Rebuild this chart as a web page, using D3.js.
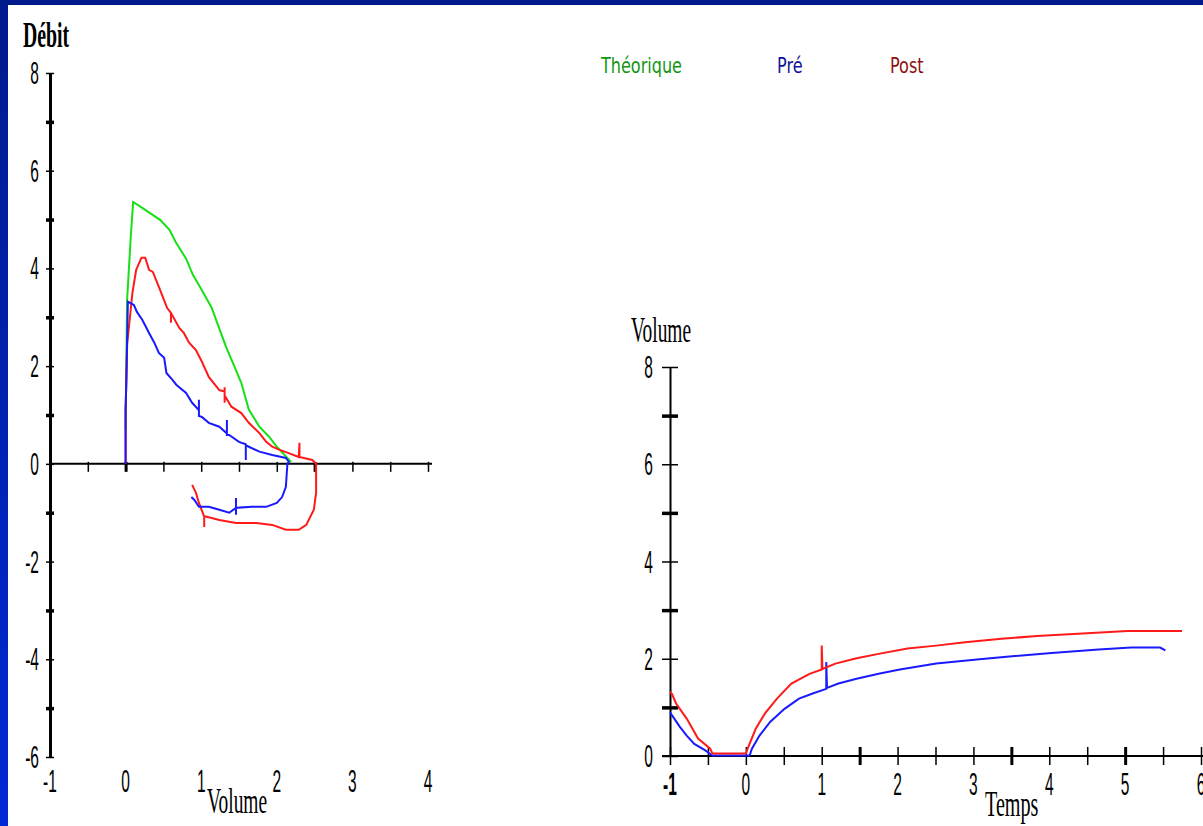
<!DOCTYPE html>
<html>
<head>
<meta charset="utf-8">
<script src="https://cdn.jsdelivr.net/npm/d3@7"></script>
<style>
  html, body { margin: 0; padding: 0; background: #fff; }
  svg { display: block; }
</style>
</head>
<body>
<div id="chart"></div>
<script>
// legend
let seriesNames = ['Théorique', 'Pré', 'Post'];
let seriesColors = ['#16e016', '#1a1aff', '#ff1a1a'];
let legendColors = ['#129612', '#10109a', '#8c1010'];

// flow / volume loop : [volume, débit]
let theoFlow = [[0, 0.7], [0.02, 3.36], [0.07, 4.69], [0.1, 5.36], [0.24, 5.22], [0.46, 4.99],
  [0.58, 4.79], [0.67, 4.52], [0.8, 4.2], [0.89, 3.87], [1, 3.58], [1.14, 3.19], [1.21, 2.89],
  [1.33, 2.39], [1.44, 1.99], [1.53, 1.66], [1.63, 1.11], [1.77, 0.76], [1.9, 0.55], [2, 0.35],
  [2.19, 0.04]];

let preFlow = [[0, 0], [0, 1.1], [0.01, 1.72], [0.03, 3.32], [0.11, 3.25], [0.15, 3.11],
  [0.22, 2.95], [0.27, 2.8], [0.31, 2.68], [0.38, 2.48], [0.44, 2.27], [0.51, 2.17], [0.54, 1.86],
  [0.62, 1.72], [0.67, 1.62], [0.8, 1.45], [0.88, 1.25], [0.97, 1.1], [0.97, 1.31], [0.97, 0.98],
  [1.01, 0.96], [1.1, 0.84], [1.24, 0.76], [1.34, 0.62], [1.34, 0.9], [1.34, 0.59], [1.37, 0.59],
  [1.5, 0.45], [1.59, 0.4], [1.59, 0.08], [1.59, 0.38], [1.63, 0.35], [1.77, 0.25], [1.94, 0.18],
  [2.12, 0.12], [2.16, 0.04], [2.14, 0], [2.12, -0.47], [2.07, -0.68], [2, -0.8], [1.86, -0.88],
  [1.67, -0.88], [1.46, -0.9], [1.46, -0.7], [1.46, -1.04], [1.46, -0.9], [1.37, -1.0],
  [1.24, -0.94], [1.1, -0.88], [0.97, -0.88], [0.91, -0.74], [0.87, -0.68]];

let postFlow = [[0, 0], [0, 1.1], [0.01, 1.72], [0.02, 2.44], [0.09, 3.5], [0.14, 3.97],
  [0.21, 4.22], [0.26, 4.22], [0.31, 3.97], [0.36, 3.93], [0.44, 3.62], [0.55, 3.19], [0.6, 3.09],
  [0.6, 2.89], [0.6, 3.09], [0.71, 2.78], [0.77, 2.68], [0.84, 2.48], [0.93, 2.33], [1.01, 2.09],
  [1.1, 1.78], [1.24, 1.51], [1.31, 1.48], [1.31, 1.25], [1.31, 1.57], [1.31, 1.4], [1.4, 1.17],
  [1.53, 1.04], [1.63, 0.84], [1.77, 0.63], [1.86, 0.45], [1.94, 0.35], [2.03, 0.29], [2.14, 0.23],
  [2.29, 0.14], [2.3, 0.43], [2.3, 0.14], [2.47, 0.08], [2.52, 0], [2.52, -0.59], [2.49, -0.94],
  [2.39, -1.25], [2.29, -1.35], [2.12, -1.35], [1.94, -1.25], [1.73, -1.21], [1.46, -1.21],
  [1.24, -1.15], [1.06, -1.08], [1.04, -1.08], [1.04, -1.29], [1.04, -1.08], [0.97, -0.8],
  [0.93, -0.59], [0.88, -0.43]];

// volume / time : [temps, volume]
let preTime = [[-1, 0.9], [-0.975, 0.84], [-0.87, 0.6], [-0.78, 0.42], [-0.68, 0.25], [-0.54, 0.12],
  [-0.44, 0.01], [0.05, 0.01], [0.08, 0.15], [0.18, 0.42], [0.32, 0.7], [0.51, 0.97], [0.7, 1.18],
  [0.89, 1.29], [1.06, 1.38], [1.06, 1.93], [1.07, 1.4], [1.22, 1.49], [1.46, 1.59], [1.75, 1.69],
  [2.03, 1.78], [2.51, 1.9], [3.08, 1.99], [3.51, 2.05], [4.03, 2.12], [4.65, 2.19], [5.08, 2.23],
  [5.46, 2.23], [5.53, 2.17]];

let postTime = [[-1, 1.32], [-0.975, 1.28], [-0.92, 1.08], [-0.78, 0.77], [-0.63, 0.36],
  [-0.47, 0.15], [-0.44, 0.05], [0, 0.05], [0.03, 0.18], [0.13, 0.56], [0.25, 0.87], [0.41, 1.18],
  [0.6, 1.49], [0.84, 1.69], [1, 1.78], [1, 2.27], [1.01, 1.79], [1.18, 1.9], [1.46, 2.01],
  [1.75, 2.1], [2.13, 2.21], [2.51, 2.27], [2.89, 2.34], [3.37, 2.41], [3.84, 2.47], [4.32, 2.51],
  [5.03, 2.57], [5.75, 2.57]];

// tick labels
let flowYLabels = [8, 6, 4, 2, 0, -2, -4, -6];
let flowXLabels = [-1, 0, 1, 2, 3, 4];
let timeYLabels = [8, 6, 4, 2, 0];
let timeXLabels = [-1, 0, 1, 2, 3, 4, 5, 6];

let width = 1203;
let height = 826;

let svg = d3.select('#chart')
  .append('svg')
  .attr('width', width)
  .attr('height', height);

// blue slide frame
let grad = svg.append('defs').append('linearGradient')
  .attr('id', 'frame')
  .attr('x1', 0).attr('y1', 0).attr('x2', 0).attr('y2', 1);
grad.append('stop').attr('offset', '0%').attr('stop-color', '#001a8c');
grad.append('stop').attr('offset', '100%').attr('stop-color', '#0029d6');

svg.append('rect').attr('width', width).attr('height', height).attr('fill', '#fff');
svg.append('rect').attr('width', width).attr('height', 5).attr('fill', '#001a8c');
svg.append('rect').attr('width', 8).attr('height', height).attr('fill', 'url(#frame)');

// narrow text like the old bitmap fonts
function label(x, y, str, opts) {
  opts = opts || {};
  return svg.append('text')
    .attr('transform', 'translate(' + x + ',' + y + ') scale(' + (opts.sx || 0.5) + ',1)')
    .attr('text-anchor', opts.anchor || 'start')
    .attr('font-family', opts.family || 'Liberation Sans, Arial, sans-serif')
    .attr('font-size', opts.size || 31)
    .attr('font-weight', opts.weight || 'normal')
    .attr('fill', opts.fill || '#000')
    .text(str);
}

// ---- flow / volume chart ----
let xFlow = d3.scaleLinear().domain([-1, 4]).range([50, 428]);
let yFlow = d3.scaleLinear().domain([-6, 8]).range([757, 73]);

let flowY = svg.append('g')
  .attr('transform', 'translate(' + xFlow(-1) + ',0)')
  .call(d3.axisLeft(yFlow).tickValues(d3.range(-6, 9, 1)).tickSizeOuter(0).tickFormat(''));
flowY.select('.domain').attr('stroke-width', 3);
flowY.selectAll('.tick line')
  .attr('x1', -4).attr('x2', 4)
  .attr('stroke-width', d => (Math.abs(d) % 2 === 1 ? 3.5 : 1.5));

let flowX = svg.append('g')
  .attr('transform', 'translate(0,' + yFlow(0) + ')')
  .call(d3.axisBottom(xFlow).tickValues(d3.range(-1, 4.01, 0.5)).tickSizeOuter(0).tickFormat(''));
flowX.select('.domain').attr('stroke-width', 2).attr('d', 'M' + xFlow(-1) + ',0H' + (xFlow(4) + 4));
flowX.selectAll('.tick line')
  .attr('y1', -2).attr('y2', 8)
  .attr('stroke-width', d => (d === 0 || d === 2.5 ? 3 : 1.5));

flowYLabels.forEach(v => label(39, yFlow(v) + 11, v, { anchor: 'end' }));
flowXLabels.forEach(v => label(xFlow(v), 792, v, { anchor: 'middle' }));

label(23, 47, 'Débit', { family: 'Liberation Serif, serif', size: 36, sx: 0.55, weight: 'bold' });
label(207, 813, 'Volume', { family: 'Liberation Serif, serif', size: 36, sx: 0.54 });

let flowLine = d3.line()
  .x(d => xFlow(d[0]))
  .y(d => yFlow(d[1]));

[theoFlow, postFlow, preFlow].forEach((data, i) => {
  let color = [seriesColors[0], seriesColors[2], seriesColors[1]][i];
  svg.append('path')
    .datum(data)
    .attr('d', flowLine)
    .attr('fill', 'none')
    .attr('stroke', color)
    .attr('stroke-width', 2);
});

// legend
let legendX = [601, 777, 890];
seriesNames.forEach((name, i) => {
  label(legendX[i], 73, name, {
    family: 'DejaVu Sans, sans-serif', size: 22, sx: 0.73, fill: legendColors[i]
  });
});

// ---- volume / time chart ----
let xTime = d3.scaleLinear().domain([-1, 6]).range([670, 1201]);
let yTime = d3.scaleLinear().domain([0, 8]).range([756, 367]);

let timeY = svg.append('g')
  .attr('transform', 'translate(' + xTime(-1) + ',0)')
  .call(d3.axisLeft(yTime).tickValues(d3.range(0, 9, 1)).tickSizeOuter(0).tickFormat(''));
timeY.select('.domain').attr('stroke-width', 2);
timeY.selectAll('.tick line')
  .attr('x1', -8).attr('x2', 8)
  .attr('stroke-width', d => (d % 2 === 1 ? 3.5 : 1.5));

let timeX = svg.append('g')
  .attr('transform', 'translate(0,' + yTime(0) + ')')
  .call(d3.axisBottom(xTime).tickValues(d3.range(-1, 6.01, 0.5)).tickSizeOuter(0).tickFormat(''));
timeX.select('.domain').attr('stroke-width', 2).attr('d', 'M' + (xTime(-1) - 8) + ',0H' + width);
timeX.selectAll('.tick line')
  .attr('y1', -9).attr('y2', 9)
  .attr('stroke-width', d => ([1.5, 3.5, 5].includes(d) ? 3 : 1.5));

timeYLabels.forEach(v => label(653, yTime(v) + 11, v, { anchor: 'end' }));
timeXLabels.forEach(v => label(xTime(v), 795, v, { anchor: 'middle', weight: v === -1 ? 'bold' : 'normal' }));

label(631, 342, 'Volume', { family: 'Liberation Serif, serif', size: 36, sx: 0.54 });
label(985, 816, 'Temps', { family: 'Liberation Serif, serif', size: 36, sx: 0.56 });

let timeLine = d3.line()
  .x(d => xTime(d[0]))
  .y(d => yTime(d[1]));

[preTime, postTime].forEach((data, i) => {
  svg.append('path')
    .datum(data)
    .attr('d', timeLine)
    .attr('fill', 'none')
    .attr('stroke', seriesColors[i + 1])
    .attr('stroke-width', 2);
});
</script>
</body>
</html>
